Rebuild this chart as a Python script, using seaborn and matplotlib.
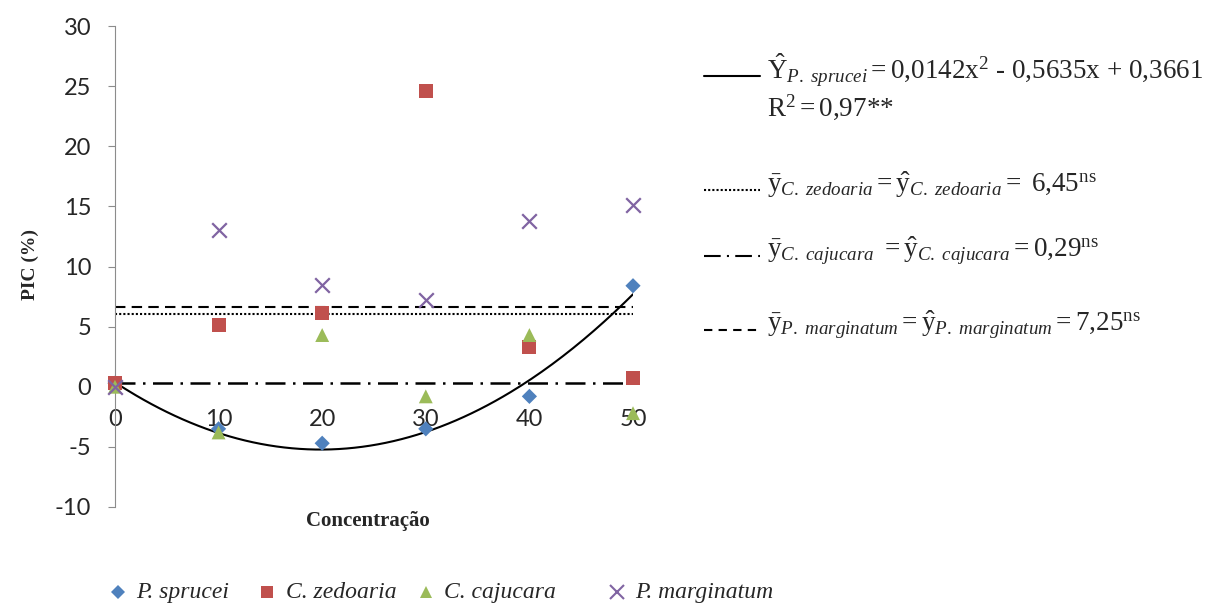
import matplotlib
matplotlib.use("Agg")
import matplotlib.pyplot as plt
from matplotlib.lines import Line2D
import numpy as np
import pandas as pd
import seaborn as sns

# Data
concentracao = [0, 10, 20, 30, 40, 50]
p_sprucei = [0.3, -3.5, -4.7, -3.5, -0.8, 8.4]
c_zedoaria = [0.3, 5.1, 6.1, 24.6, 3.3, 0.7]
c_cajucara = [0.0, -3.8, 4.3, -0.8, 4.3, -2.2]
p_marginatum = [0.0, 13.0, 8.5, 7.2, 13.8, 15.1]

species = ["P. sprucei", "C. zedoaria", "C. cajucara", "P. marginatum"]
colors = ["#4F81BD", "#C0504D", "#9BBB59", "#8064A2"]
markers = ["D", "s", "^", "x"]
sizes = [60, 100, 100, 110]

# fitted quadratic for P. sprucei and the mean lines (levels as drawn)
coef_sprucei = [0.0142, -0.5635, 0.3661]
mean_zedoaria = 6.05
mean_cajucara = 0.29
mean_marginatum = 6.65

df = pd.DataFrame({
    "x": concentracao * 4,
    "y": p_sprucei + c_zedoaria + c_cajucara + p_marginatum,
    "especie": np.repeat(species, len(concentracao)),
})

sns.set_style("white")
plt.rcParams["font.family"] = ["Lato", "DejaVu Sans"]
plt.rcParams["axes.unicode_minus"] = False
plt.rcParams["mathtext.fontset"] = "custom"
plt.rcParams["mathtext.rm"] = "Liberation Serif"
plt.rcParams["mathtext.it"] = "Liberation Serif:italic"
plt.rcParams["mathtext.bf"] = "Liberation Serif:bold"

fig = plt.figure(figsize=(12.27, 6.05), dpi=100)
ax = fig.add_axes([0.0937, 0.162, 0.4222, 0.795])

# regression / mean lines
xs = np.linspace(0, 50, 200)
ax.plot(xs, np.polyval(coef_sprucei, xs), color="black", lw=1.5)
ax.plot([0, 50], [mean_zedoaria] * 2, color="black", lw=1.5, ls=(0, (1, 1)))
ax.plot([0, 50], [mean_cajucara] * 2, color="black", lw=1.8, ls=(0, (8, 3, 1, 3)))
ax.plot([0, 50], [mean_marginatum] * 2, color="black", lw=1.5, ls=(0, (5, 3)))

for sp, c, m, s in zip(species, colors, markers, sizes):
    sub = df[df["especie"] == sp]
    kw = dict(linewidth=1.6) if m == "x" else dict(edgecolor="none")
    sns.scatterplot(data=sub, x="x", y="y", color=c, marker=m, s=s, ax=ax,
                    clip_on=False, zorder=3, **kw)

ax.set_xlim(0, 50)
ax.set_ylim(-10, 30)
ax.set_xticks(concentracao)
ax.set_yticks(range(-10, 31, 5))
ax.set_xlabel("")
ax.set_ylabel("")
for side in ["top", "right", "bottom"]:
    ax.spines[side].set_visible(False)
ax.spines["bottom"].set_position(("data", 0))
ax.spines["left"].set_color("#8c8c8c")
ax.tick_params(axis="y", direction="out", length=5, color="#8c8c8c", pad=12,
               labelsize=17, left=True)
ax.tick_params(axis="x", length=0, pad=16, labelsize=17)

fig.text(0.025, 0.562, "PIC (%)", rotation=90, ha="center", va="center",
         family="Liberation Serif", weight="bold", fontsize=14)
fig.text(0.300, 0.139, "Concentração", ha="center", va="center",
         family="Liberation Serif", weight="bold", fontsize=15)

# equations on the right
lx0, lx1, tx = 0.574, 0.619, 0.625
eq_font = dict(family="Liberation Serif", fontsize=19.5, ha="left", va="center")
eqs = [
    (0.875, "-", r"$\hat{\mathrm{Y}}_{\mathit{P.\ sprucei}} = 0{,}0142\mathrm{x}^2$ - 0,5635x + 0,3661"),
    (0.686, (0, (1, 1)), r"$\bar{\mathrm{y}}_{\mathit{C.\ zedoaria}} = \hat{\mathrm{y}}_{\mathit{C.\ zedoaria}} = \ 6{,}45^{\mathrm{ns}}$"),
    (0.577, (0, (8, 3, 1, 3)), r"$\bar{\mathrm{y}}_{\mathit{C.\ cajucara}}\ = \hat{\mathrm{y}}_{\mathit{C.\ cajucara}} = 0{,}29^{\mathrm{ns}}$"),
    (0.455, (0, (4, 3)), r"$\bar{\mathrm{y}}_{\mathit{P.\ marginatum}} = \hat{\mathrm{y}}_{\mathit{P.\ marginatum}} = 7{,}25^{\mathrm{ns}}$"),
]
for y, ls, txt in eqs:
    fig.add_artist(Line2D([lx0, lx1], [y, y], transform=fig.transFigure,
                          color="black", lw=1.5, ls=ls))
    fig.text(tx, y + 0.008, txt, **eq_font)
fig.text(tx, 0.823, r"$\mathrm{R}^2 = 0{,}97$**", **eq_font)

# bottom legend
leg_x = [0.096, 0.218, 0.347, 0.503]
for sp, c, m, ms, x in zip(species, colors, markers, [7, 9, 9, 10], leg_x):
    fig.add_artist(Line2D([x], [0.022], transform=fig.transFigure, ls="none",
                          marker=m, color=c, markersize=ms,
                          markeredgewidth=1.5 if m == "x" else 0))
    fig.text(x + 0.015, 0.02, sp, ha="left", va="center",
             family="Liberation Serif", style="italic", fontsize=17)

fig.savefig("out.png", dpi=100)
